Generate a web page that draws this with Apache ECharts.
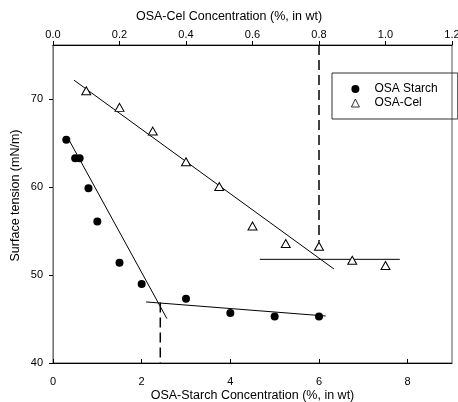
<!DOCTYPE html>
<html>
<head>
<meta charset="utf-8">
<script src="https://cdn.jsdelivr.net/npm/echarts@6/dist/echarts.min.js"></script>
<style>
  html, body { margin: 0; padding: 0; background: #fff; }
  #chart { width: 458px; height: 402px; }
</style>
</head>
<body>
<div id="chart"></div>
<script>
// OSA Starch, read against the bottom axis (%, in wt)
var starchX = [0.3, 0.5, 0.6, 0.8, 1.0, 1.5, 2.0, 3.0, 4.0, 5.0, 6.0];
var starchY = [65.4, 63.3, 63.3, 59.9, 56.1, 51.4, 49.0, 47.3, 45.7, 45.3, 45.3];
// OSA-Cel, read against the top axis (%, in wt)
var celX = [0.1, 0.2, 0.3, 0.4, 0.5, 0.6, 0.7, 0.8, 0.9, 1.0];
var celY = [71.0, 69.1, 66.4, 62.9, 60.1, 55.6, 53.6, 53.3, 51.7, 51.1];

// fitted lines and cmc markers (end points)
var starchFit = [[0.36, 65.4], [2.57, 45.05]];
var starchPlateau = [[2.1, 46.95], [6.15, 45.35]];
var starchCmc = [[2.42, 46.9], [2.42, 40]];
var celFit = [[0.063, 72.2], [0.845, 50.7]];
var celPlateau = [[0.622, 51.8], [1.043, 51.8]];
var celCmc = [[0.8, 76.2], [0.8, 53.8]];

var bottomTicks = [0, 2, 4, 6, 8];
var topTicks = [0, 0.2, 0.4, 0.6, 0.8, 1.0, 1.2];
var yTicks = [40, 50, 60, 70];

var FONT = 'Liberation Sans';

function zip(xs, ys) {
	return xs.map(function (x, i) { return [x, ys[i]]; });
}
function lineSeries(data, axis, dashed) {
	return {
		type: 'line',
		xAxisIndex: axis,
		data: data,
		symbol: 'none',
		silent: true,
		z: 1,
		lineStyle: { color: '#000', width: dashed ? 1.5 : 1, opacity: 1, type: dashed ? [10, 5] : 'solid' }
	};
}

var chart = echarts.init(document.getElementById('chart'));
chart.setOption({
	animation: false,
	textStyle: { fontFamily: FONT },
	grid: {
		left: 53, right: 6, top: 45, bottom: 39,
		outerBoundsMode: 'none',
		show: true, borderColor: '#555', borderWidth: 1
	},
	legend: {
		orient: 'vertical',
		left: 332, top: 73,
		padding: [10, 20, 10, 19],
		borderColor: '#333', borderWidth: 1,
		itemWidth: 8, itemHeight: 8, itemGap: 2,
		itemStyle: { borderWidth: 0.8 },
		textStyle: { fontFamily: FONT, fontSize: 12, color: '#000', padding: [0, 0, 0, 10] },
		data: ['OSA Starch', 'OSA-Cel']
	},
	xAxis: [{
		type: 'value', position: 'bottom',
		min: 0, max: 9, interval: 2,
		name: 'OSA-Starch Concentration (%, in wt)',
		nameLocation: 'middle', nameGap: 26, nameMoveOverlap: false,
		nameTextStyle: { fontFamily: FONT, fontSize: 12.5, color: '#000' },
		axisLine: { lineStyle: { color: '#000' } },
		axisTick: { inside: true, length: 4, lineStyle: { color: '#000' },
			customValues: bottomTicks },
		axisLabel: { fontFamily: FONT, fontSize: 11, color: '#000', margin: 13,
			customValues: bottomTicks },
		splitLine: { show: false }
	}, {
		type: 'value', position: 'top',
		min: 0, max: 1.2, interval: 0.2,
		name: 'OSA-Cel Concentration (%, in wt)',
		nameLocation: 'middle', nameGap: 22, nameMoveOverlap: false,
		nameTextStyle: { fontFamily: FONT, fontSize: 12.5, color: '#000', padding: [0, 47, 0, 0] },
		axisLine: { lineStyle: { color: '#000' } },
		axisTick: { length: 4, lineStyle: { color: '#000' }, customValues: topTicks },
		axisLabel: { fontFamily: FONT, fontSize: 11, color: '#000', margin: 5,
			customValues: topTicks,
			formatter: function (v) { return v.toFixed(1); } },
		splitLine: { show: false }
	}],
	yAxis: {
		type: 'value',
		min: 40, max: 76.2, interval: 10,
		name: 'Surface tension (mN/m)',
		nameLocation: 'middle', nameGap: 31, nameMoveOverlap: false,
		nameTextStyle: { fontFamily: FONT, fontSize: 12.5, color: '#000', padding: [0, 0, 0, 17] },
		axisLine: { lineStyle: { color: '#777' } },
		axisTick: { length: 4, lineStyle: { color: '#000' }, customValues: yTicks },
		axisLabel: { fontFamily: FONT, fontSize: 11, color: '#000', margin: 10,
			customValues: yTicks },
		splitLine: { show: false }
	},
	series: [{
		name: 'OSA Starch',
		type: 'scatter',
		xAxisIndex: 0,
		data: zip(starchX, starchY),
		symbol: 'circle',
		symbolSize: 8,
		z: 3,
		itemStyle: { color: '#000', opacity: 1 }
	}, {
		name: 'OSA-Cel',
		type: 'scatter',
		xAxisIndex: 1,
		data: zip(celX, celY),
		symbol: 'triangle',
		symbolSize: [9, 8],
		z: 3,
		itemStyle: { color: '#fff', borderColor: '#000', borderWidth: 1, opacity: 1 }
	},
		lineSeries(starchFit, 0, false),
		lineSeries(starchPlateau, 0, false),
		lineSeries(starchCmc, 0, true),
		lineSeries(celFit, 1, false),
		lineSeries(celPlateau, 1, false),
		lineSeries(celCmc, 1, true)
	]
});
</script>
</body>
</html>
